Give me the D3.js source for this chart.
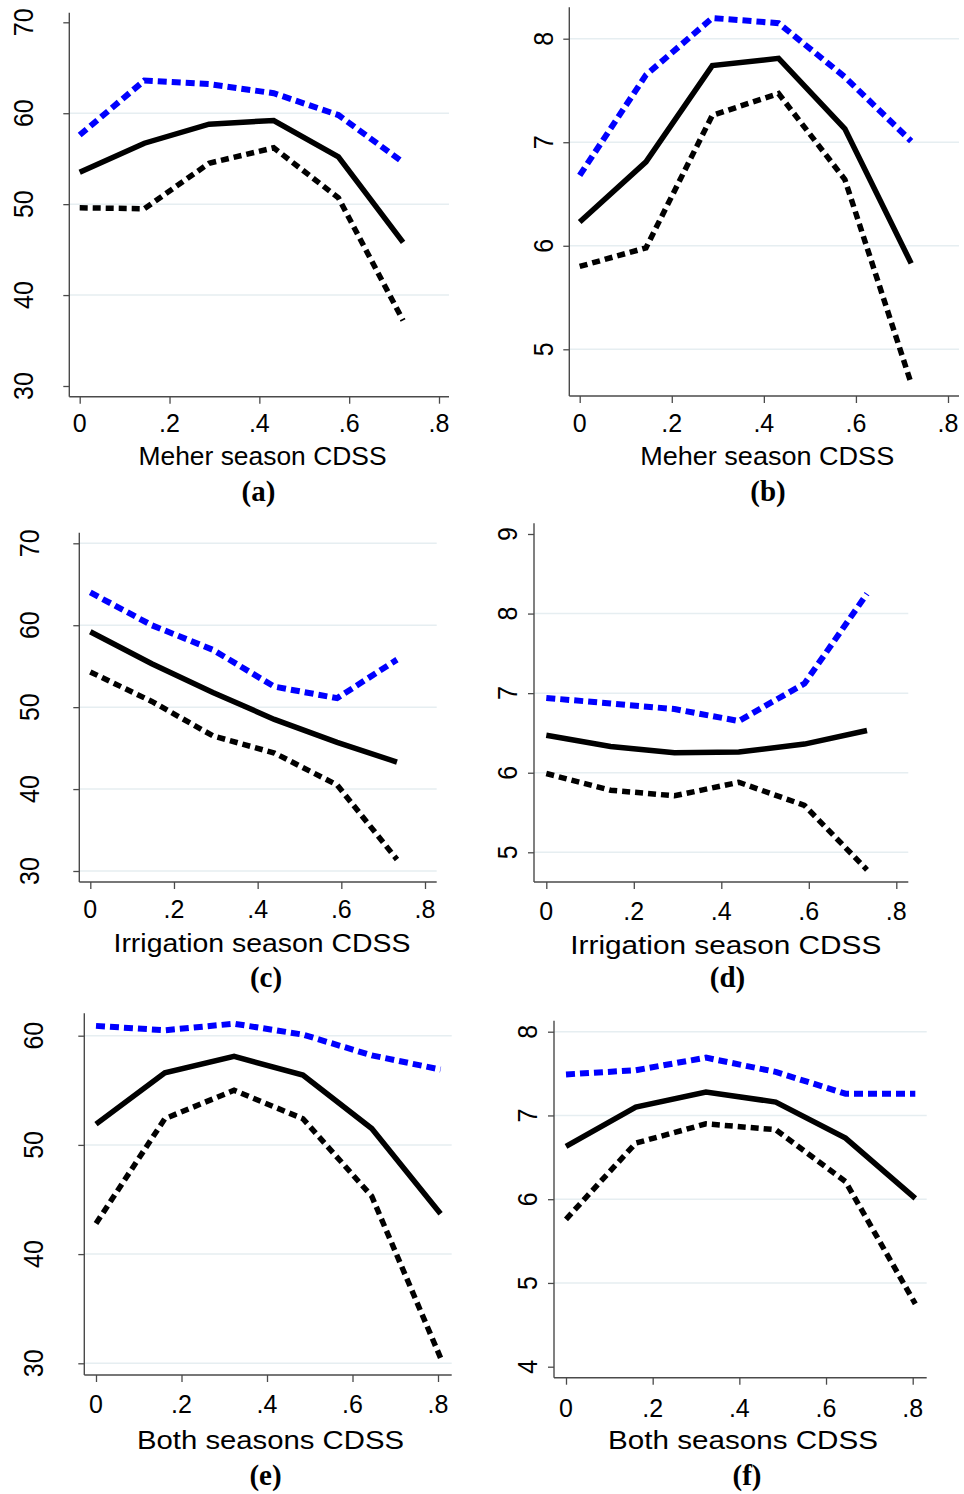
<!DOCTYPE html>
<html>
<head>
<meta charset="utf-8">
<script src="https://cdn.jsdelivr.net/npm/d3@7"></script>
<style>
  html, body { margin: 0; padding: 0; background: #fff; }
  svg { display: block; }
  .tick-label { font-family: "Liberation Sans", Arial, Helvetica, sans-serif; font-size: 25px; fill: #000; }
  .axis-title { font-family: "Liberation Sans", Arial, Helvetica, sans-serif; font-size: 26.5px; fill: #000; }
  .panel-label { font-family: "Liberation Serif", "Times New Roman", serif; font-size: 29px; font-weight: bold; fill: #000; }
</style>
</head>
<body>
<svg id="chart" width="964" height="1494"></svg>
<script>
// CDSS values at which the predictions are evaluated
const meherX = [0, 0.144, 0.288, 0.432, 0.576, 0.72];
const irrigX = [0, 0.147, 0.293, 0.44, 0.59, 0.733];
const bothX  = [0, 0.161, 0.323, 0.484, 0.645, 0.806];

const xTickValues = [0, 0.2, 0.4, 0.6, 0.8];
const xTickLabels = ["0", ".2", ".4", ".6", ".8"];

// (a) Meher season, left outcome
const aFit   = [53.5, 56.7, 58.8, 59.2, 55.2, 45.8];
const aUpper = [57.6, 63.6, 63.2, 62.2, 59.8, 54.6];
const aLower = [49.6, 49.5, 54.5, 56.2, 50.7, 37.2];
const aTicks = [30, 40, 50, 60, 70];
const aGrid  = [40, 50, 60];

// (b) Meher season, right outcome
const bFit   = [6.23, 6.81, 7.74, 7.81, 7.13, 5.83];
const bUpper = [6.68, 7.65, 8.20, 8.15, 7.63, 7.01];
const bLower = [5.80, 5.98, 7.26, 7.47, 6.64, 4.67];
const bTicks = [5, 6, 7, 8];
const bGrid  = [5, 6, 7, 8];

// (c) Irrigation season, left outcome
const cFit   = [59.2, 55.3, 51.8, 48.5, 45.7, 43.3];
const cUpper = [64.0, 60.0, 57.0, 52.5, 51.1, 55.8];
const cLower = [54.3, 50.7, 46.5, 44.4, 40.5, 31.4];
const cTicks = [30, 40, 50, 60, 70];
const cGrid  = [30, 40, 50, 60, 70];

// (d) Irrigation season, right outcome
const dFit   = [6.47, 6.33, 6.25, 6.26, 6.36, 6.53];
const dUpper = [6.94, 6.87, 6.80, 6.65, 7.12, 8.25];
const dLower = [5.99, 5.78, 5.71, 5.88, 5.59, 4.78];
const dTicks = [5, 6, 7, 8, 9];
const dGrid  = [5, 6, 7, 8];

// (e) Both seasons, left outcome
const eFit   = [51.9, 56.6, 58.1, 56.4, 51.5, 43.7];
const eUpper = [60.9, 60.5, 61.1, 60.1, 58.2, 56.9];
const eLower = [42.8, 52.4, 55.0, 52.4, 45.3, 30.5];
const eTicks = [30, 40, 50, 60];
const eGrid  = [30, 40, 50, 60];

// (f) Both seasons, right outcome
const fFit   = [6.63, 7.10, 7.28, 7.16, 6.73, 6.01];
const fUpper = [7.49, 7.54, 7.69, 7.52, 7.26, 7.26];
const fLower = [5.76, 6.67, 6.90, 6.83, 6.21, 4.75];
const fTicks = [4, 5, 6, 7, 8];
const fGrid  = [5, 6, 7, 8];

// Panel layout: frame edges, pixel positions of the first/last ticks, label gaps
const panels = [
  { id: "(a)", title: "Meher season CDSS", x: meherX, fit: aFit, upper: aUpper, lower: aLower, yTicks: aTicks, grid: aGrid,
    frame: { l: 69.3, r: 449, t: 12.7, b: 396.7 }, xr: [79.7, 439], yd: [30, 70], yr: [386, 22.3],
    yGap: 36, xLab: 35.5, titleY: 465, titleX: 262.5, titleW: 248, labelX: 258.5, labelY: 501 },
  { id: "(b)", title: "Meher season CDSS", x: meherX, fit: bFit, upper: bUpper, lower: bLower, yTicks: bTicks, grid: bGrid,
    frame: { l: 569.3, r: 959, t: 7.3, b: 396 }, xr: [579.7, 948], yd: [5, 8], yr: [349.3, 38.7],
    yGap: 16, xLab: 36, titleY: 465, titleX: 767.2, titleW: 254, labelX: 768, labelY: 501 },
  { id: "(c)", title: "Irrigation season CDSS", x: irrigX, fit: cFit, upper: cUpper, lower: cLower, yTicks: cTicks, grid: cGrid,
    frame: { l: 79.3, r: 436.7, t: 532.7, b: 882 }, xr: [90.3, 425], yd: [30, 70], yr: [871, 543.3],
    yGap: 40, xLab: 36.3, titleY: 951.7, titleX: 262, titleW: 297, labelX: 266, labelY: 987 },
  { id: "(d)", title: "Irrigation season CDSS", x: irrigX, fit: dFit, upper: dUpper, lower: dLower, yTicks: dTicks, grid: dGrid,
    frame: { l: 534, r: 908.3, t: 523.3, b: 882 }, xr: [546.3, 896.3], yd: [5, 9], yr: [852.3, 534],
    yGap: 17, xLab: 38, titleY: 954, titleX: 725.8, titleW: 311, labelX: 727.5, labelY: 987 },
  { id: "(e)", title: "Both seasons CDSS", x: bothX, fit: eFit, upper: eUpper, lower: eLower, yTicks: eTicks, grid: eGrid,
    frame: { l: 84.3, r: 451.7, t: 1013.3, b: 1375 }, xr: [96, 438], yd: [30, 60], yr: [1363.3, 1035.7],
    yGap: 41, xLab: 37.7, titleY: 1448.5, titleX: 270.5, titleW: 267, labelX: 265.5, labelY: 1485 },
  { id: "(f)", title: "Both seasons CDSS", x: bothX, fit: fFit, upper: fUpper, lower: fLower, yTicks: fTicks, grid: fGrid,
    frame: { l: 554, r: 926.7, t: 1020.7, b: 1377.7 }, xr: [566, 912.7], yd: [4, 8], yr: [1366.7, 1031.7],
    yGap: 17, xLab: 39, titleY: 1449.3, titleX: 743, titleW: 270, labelX: 747, labelY: 1485 }
];

const svg = d3.select("#chart");
const axisColor = "#4a4a4a";
const gridColor = "#e6eef1";

panels.forEach(p => {
  const g = svg.append("g");
  const x = d3.scaleLinear().domain([0, 0.8]).range(p.xr);
  const y = d3.scaleLinear().domain(p.yd).range(p.yr);
  const f = p.frame;

  // light horizontal grid lines
  g.selectAll(".grid").data(p.grid).join("line")
    .attr("x1", f.l).attr("x2", f.r)
    .attr("y1", d => y(d)).attr("y2", d => y(d))
    .attr("stroke", gridColor).attr("stroke-width", 1.5);

  // y axis: line, ticks, rotated labels
  const yAxis = d3.axisLeft(y).tickValues(p.yTicks).tickSize(6).tickFormat(d3.format("d"));
  const ya = g.append("g").attr("transform", `translate(${f.l},0)`).call(yAxis);
  ya.select(".domain").remove();
  ya.selectAll(".tick line").attr("stroke", axisColor).attr("stroke-width", 1.3);
  ya.selectAll(".tick text").remove();
  g.append("line").attr("x1", f.l).attr("x2", f.l).attr("y1", f.t).attr("y2", f.b)
    .attr("stroke", axisColor).attr("stroke-width", 1.4);
  g.selectAll(".ylab").data(p.yTicks).join("text")
    .attr("class", "tick-label")
    .attr("text-anchor", "middle")
    .attr("transform", d => `translate(${f.l - p.yGap},${y(d)}) rotate(-90) scale(1,1.12)`)
    .text(d => d);

  // x axis: line, ticks, labels
  const xAxis = d3.axisBottom(x).tickValues(xTickValues).tickSize(7).tickFormat("");
  const xa = g.append("g").attr("transform", `translate(0,${f.b})`).call(xAxis);
  xa.select(".domain").remove();
  xa.selectAll(".tick line").attr("stroke", axisColor).attr("stroke-width", 1.3);
  g.append("line").attr("x1", f.l).attr("x2", f.r).attr("y1", f.b).attr("y2", f.b)
    .attr("stroke", axisColor).attr("stroke-width", 1.4);
  g.selectAll(".xlab").data(xTickValues).join("text")
    .attr("class", "tick-label")
    .attr("text-anchor", "middle")
    .attr("x", d => x(d)).attr("y", f.b + p.xLab)
    .text((d, i) => xTickLabels[i]);

  // axis title and panel letter
  g.append("text").attr("class", "axis-title").attr("text-anchor", "middle")
    .attr("x", p.titleX).attr("y", p.titleY)
    .attr("textLength", p.titleW).attr("lengthAdjust", "spacingAndGlyphs")
    .text(p.title);
  g.append("text").attr("class", "panel-label").attr("text-anchor", "middle")
    .attr("x", p.labelX).attr("y", p.labelY).text(p.id);

  // fitted line with confidence bounds
  const line = d3.line().x((d, i) => x(p.x[i])).y(d => y(d));
  g.append("path").datum(p.upper).attr("d", line)
    .attr("fill", "none").attr("stroke", "#0000ff").attr("stroke-width", 6)
    .attr("stroke-dasharray", "9,5");
  g.append("path").datum(p.lower).attr("d", line)
    .attr("fill", "none").attr("stroke", "#000").attr("stroke-width", 5.5)
    .attr("stroke-dasharray", "8,5");
  g.append("path").datum(p.fit).attr("d", line)
    .attr("fill", "none").attr("stroke", "#000").attr("stroke-width", 5.5)
    .attr("stroke-linejoin", "miter");
});
</script>
</body>
</html>
